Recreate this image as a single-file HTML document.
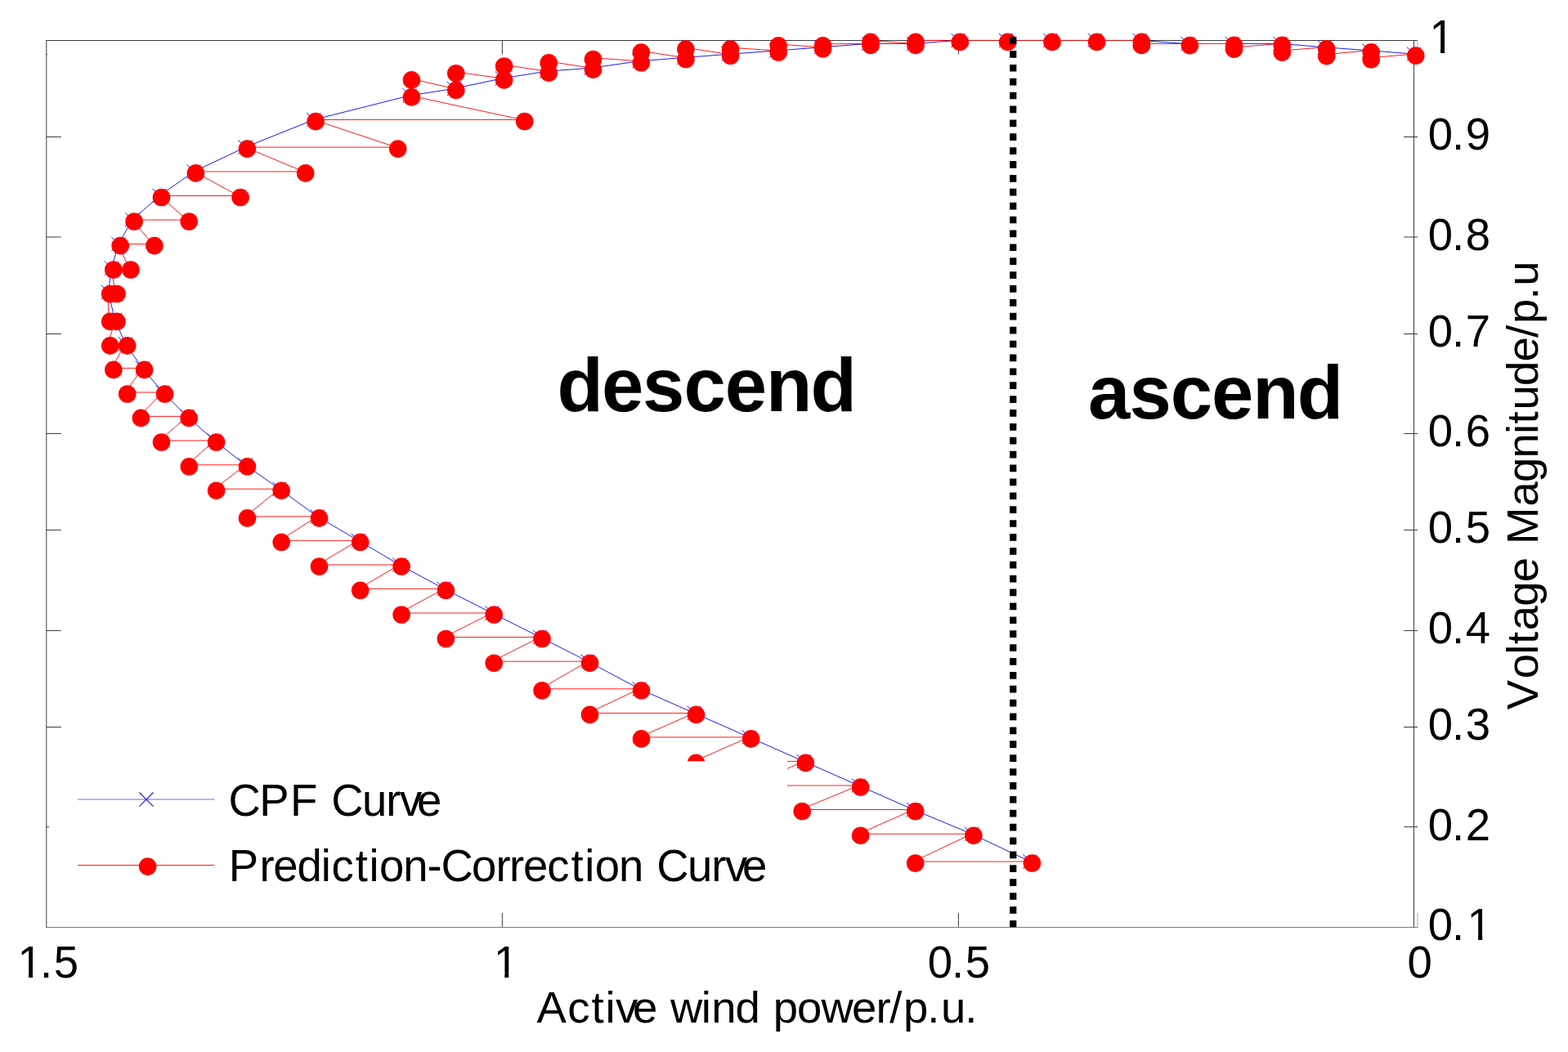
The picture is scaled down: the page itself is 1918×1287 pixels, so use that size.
<!DOCTYPE html>
<html lang="en"><head><meta charset="utf-8"><title>CPF Curve</title>
<style>html,body{margin:0;padding:0;background:#fff;}body{width:1918px;height:1287px;overflow:hidden;}svg{display:block;}text{font-family:"Liberation Sans",sans-serif;fill:#000;}</style></head><body>
<svg width="1918" height="1287" viewBox="0 0 1918 1287">
<rect x="0" y="0" width="1918" height="1287" fill="#fff"/>
<g stroke="#3c3c3c" stroke-width="1" fill="none">
<path d="M56.3 49.5 H1734 M56.8 49.5 V1135 M1729.5 49.5 V1134.5"/>
<path d="M56.8 1134.5 H1734.5" stroke="#7c7c7c"/>
<path d="M56.8 167.5 H74.7 M1717.2 167.5 H1734 M56.8 290 H74.7 M1717.2 290 H1734 M56.8 408.5 H74.7 M1717.2 408.5 H1734 M56.8 530.5 H74.7 M1717.2 530.5 H1734 M56.8 648.4 H74.7 M1717.2 648.4 H1734 M56.8 771.5 H74.7 M1717.2 771.5 H1734 M56.8 889.5 H74.7 M1717.2 889.5 H1734 M56.8 1011.6 H74.7 M1717.2 1011.6 H1734 M614.4 49.5 V66.6 M614.4 1134 V1117 M1172.4 49.5 V66.6 M1172.4 1134 V1117"/>
</g>
<path d="M1734 49.4 V58.5 M1734 1117 V1134.3" stroke="#aaa" stroke-width="1" fill="none"/>
<path d="M57.5 65.8 V67.2" stroke="#555" stroke-width="1" fill="none"/>
<polyline points="1729.5,66.1 1674.9,61.8 1620.4,57.8 1566,53.4 1507.2,53.4" fill="none" stroke="#0000ff" stroke-width="0.9"/>
<polyline points="1453.1,53.6 1394.1,49.4" fill="none" stroke="#0000ff" stroke-width="0.9"/>
<polyline points="1172,49.4 1117.7,53.4 1062.7,53.4 1004.3,57.8 949.9,62 891.2,66.3 836.6,70.5 782,74.8 723.2,83.2 668.9,87.2 614.3,95.9 555.5,108.4 501.2,116.9 383.8,146.5 300.1,180.1 237.1,209.9 195.2,239.5 161.8,269 144.9,298.6 136.5,328 132.4,357.5 140.7,391.4 153.4,420.9 174.3,450.4 199.3,480 228.9,509.4 262.3,539 300.2,568.8 341.9,598.2 388.2,631.9 438.4,661.3 488.8,691 543.1,720.3 601.9,750 660.7,779.5 719.2,809.2 782.2,842.8 849.2,872.4 916.3,901.9 983.1,931.4 1050.3,961 1117.4,990.5 1188.6,1020.2 1260.1,1054" fill="none" stroke="#0000ff" stroke-width="0.9"/>
<path d="M1720.9 57.5 l17.2 17.2 M1720.9 74.7 l17.2 -17.2 M1666.3 53.2 l17.2 17.2 M1666.3 70.4 l17.2 -17.2 M1611.8 49.2 l17.2 17.2 M1611.8 66.4 l17.2 -17.2 M1557.4 44.8 l17.2 17.2 M1557.4 62 l17.2 -17.2 M1498.6 44.8 l17.2 17.2 M1498.6 62 l17.2 -17.2 M1444.5 45 l17.2 17.2 M1444.5 62.2 l17.2 -17.2 M1385.5 40.8 l17.2 17.2 M1385.5 58 l17.2 -17.2 M1330.7 40.8 l17.2 17.2 M1330.7 58 l17.2 -17.2 M1276.1 40.8 l17.2 17.2 M1276.1 58 l17.2 -17.2 M1221.8 40.8 l17.2 17.2 M1221.8 58 l17.2 -17.2 M1163.4 40.8 l17.2 17.2 M1163.4 58 l17.2 -17.2 M1109.1 44.8 l17.2 17.2 M1109.1 62 l17.2 -17.2 M1054.1 44.8 l17.2 17.2 M1054.1 62 l17.2 -17.2 M995.7 49.2 l17.2 17.2 M995.7 66.4 l17.2 -17.2 M941.3 53.4 l17.2 17.2 M941.3 70.6 l17.2 -17.2 M882.6 57.7 l17.2 17.2 M882.6 74.9 l17.2 -17.2 M828 61.9 l17.2 17.2 M828 79.1 l17.2 -17.2 M773.4 66.2 l17.2 17.2 M773.4 83.4 l17.2 -17.2 M714.6 74.6 l17.2 17.2 M714.6 91.8 l17.2 -17.2 M660.3 78.6 l17.2 17.2 M660.3 95.8 l17.2 -17.2 M605.7 87.3 l17.2 17.2 M605.7 104.5 l17.2 -17.2 M546.9 99.8 l17.2 17.2 M546.9 117 l17.2 -17.2 M492.6 108.3 l17.2 17.2 M492.6 125.5 l17.2 -17.2 M375.2 137.9 l17.2 17.2 M375.2 155.1 l17.2 -17.2 M291.5 171.5 l17.2 17.2 M291.5 188.7 l17.2 -17.2 M228.5 201.3 l17.2 17.2 M228.5 218.5 l17.2 -17.2 M186.6 230.9 l17.2 17.2 M186.6 248.1 l17.2 -17.2 M153.2 260.4 l17.2 17.2 M153.2 277.6 l17.2 -17.2 M136.3 290 l17.2 17.2 M136.3 307.2 l17.2 -17.2 M127.9 319.4 l17.2 17.2 M127.9 336.6 l17.2 -17.2 M123.8 348.9 l17.2 17.2 M123.8 366.1 l17.2 -17.2 M132.1 382.8 l17.2 17.2 M132.1 400 l17.2 -17.2 M144.8 412.3 l17.2 17.2 M144.8 429.5 l17.2 -17.2 M165.7 441.8 l17.2 17.2 M165.7 459 l17.2 -17.2 M190.7 471.4 l17.2 17.2 M190.7 488.6 l17.2 -17.2 M220.3 500.8 l17.2 17.2 M220.3 518 l17.2 -17.2 M253.7 530.4 l17.2 17.2 M253.7 547.6 l17.2 -17.2 M291.6 560.2 l17.2 17.2 M291.6 577.4 l17.2 -17.2 M333.3 589.6 l17.2 17.2 M333.3 606.8 l17.2 -17.2 M379.6 623.3 l17.2 17.2 M379.6 640.5 l17.2 -17.2 M429.8 652.7 l17.2 17.2 M429.8 669.9 l17.2 -17.2 M480.2 682.4 l17.2 17.2 M480.2 699.6 l17.2 -17.2 M534.5 711.7 l17.2 17.2 M534.5 728.9 l17.2 -17.2 M593.3 741.4 l17.2 17.2 M593.3 758.6 l17.2 -17.2 M652.1 770.9 l17.2 17.2 M652.1 788.1 l17.2 -17.2 M710.6 800.6 l17.2 17.2 M710.6 817.8 l17.2 -17.2 M773.6 834.2 l17.2 17.2 M773.6 851.4 l17.2 -17.2 M840.6 863.8 l17.2 17.2 M840.6 881 l17.2 -17.2 M907.7 893.3 l17.2 17.2 M907.7 910.5 l17.2 -17.2 M974.5 922.8 l17.2 17.2 M974.5 940 l17.2 -17.2 M1041.7 952.4 l17.2 17.2 M1041.7 969.6 l17.2 -17.2 M1108.8 981.9 l17.2 17.2 M1108.8 999.1 l17.2 -17.2 M1180 1011.6 l17.2 17.2 M1180 1028.8 l17.2 -17.2 M1251.5 1045.4 l17.2 17.2 M1251.5 1062.6 l17.2 -17.2" fill="none" stroke="#0000ff" stroke-width="0.9"/>
<polyline points="1729.5,66.1 1674.9,70.8 1674.9,61.8 1620.4,66.6 1620.4,57.8 1566,62.1 1566,53.4 1507.2,58.1 1507.2,53.4 1453.1,53.6 1453.1,53.6 1394.1,53.4 1394.1,49.4 1339.3,49.4 1339.3,49.4 1284.7,49.4 1284.7,49.4 1230.4,49.4 1230.4,49.4 1172,49.4 1172,49.4 1117.7,49.4 1117.7,53.4 1062.7,49.4 1062.7,53.4 1004.3,53.8 1004.3,57.8 949.9,53.8 949.9,62 891.2,58.1 891.2,66.3 836.6,58.1 836.6,70.5 782,62.1 782,74.8 723.2,70.5 723.2,83.2 668.9,74.8 668.9,87.2 614.3,79 614.3,95.9 555.5,87.7 555.5,108.4 501.2,95.9 501.2,116.9 639.4,146.5 383.8,146.5 484.4,180.1 300.1,180.1 371.4,209.9 237.1,209.9 291.8,239.5 195.2,239.5 228.9,269 161.8,269 186.6,298.6 144.9,298.6 157.6,328 136.5,328 140.7,357.5 132.4,357.5 132.4,391.4 140.7,391.4 132.4,420.9 153.4,420.9 136.5,450.4 174.3,450.4 153.4,480 199.3,480 170.1,509.4 228.9,509.4 195.2,539 262.3,539 229,568.8 300.2,568.8 262.3,598.2 341.9,598.2 300.2,631.9 388.2,631.9 341.9,661.3 438.4,661.3 388.2,691 488.8,691 438.4,720.3 543.1,720.3 488.8,750 601.9,750 543.1,779.5 660.7,779.5 601.9,809.2 719.2,809.2 660.7,842.8 782.2,842.8 719.2,872.4 849.2,872.4 782.2,901.9 916.3,901.9 849.2,931.4" fill="none" stroke="#ff0000" stroke-width="0.9"/>
<polyline points="963,931.4 983.1,931.4 916.3,961 1050.3,961 978.9,990.5 1117.4,990.5 1050.3,1020.2 1188.6,1020.2 1117.4,1054 1260.1,1054" fill="none" stroke="#ff0000" stroke-width="0.9"/>
<g fill="#ff0000">
<circle cx="1731.8" cy="68.1" r="10.8"/>
<circle cx="1677.2" cy="72.8" r="10.8"/>
<circle cx="1677.2" cy="63.8" r="10.8"/>
<circle cx="1622.7" cy="68.6" r="10.8"/>
<circle cx="1622.7" cy="59.8" r="10.8"/>
<circle cx="1568.3" cy="64.1" r="10.8"/>
<circle cx="1568.3" cy="55.4" r="10.8"/>
<circle cx="1509.5" cy="60.1" r="10.8"/>
<circle cx="1509.5" cy="55.4" r="10.8"/>
<circle cx="1455.4" cy="55.6" r="10.8"/>
<circle cx="1396.4" cy="55.4" r="10.8"/>
<circle cx="1396.4" cy="51.4" r="10.8"/>
<circle cx="1341.6" cy="51.4" r="10.8"/>
<circle cx="1287" cy="51.4" r="10.8"/>
<circle cx="1232.7" cy="51.4" r="10.8"/>
<circle cx="1174.3" cy="51.4" r="10.8"/>
<circle cx="1120" cy="51.4" r="10.8"/>
<circle cx="1120" cy="55.4" r="10.8"/>
<circle cx="1065" cy="51.4" r="10.8"/>
<circle cx="1065" cy="55.4" r="10.8"/>
<circle cx="1006.6" cy="55.8" r="10.8"/>
<circle cx="1006.6" cy="59.8" r="10.8"/>
<circle cx="952.2" cy="55.8" r="10.8"/>
<circle cx="952.2" cy="64" r="10.8"/>
<circle cx="893.5" cy="60.1" r="10.8"/>
<circle cx="893.5" cy="68.3" r="10.8"/>
<circle cx="838.9" cy="60.1" r="10.8"/>
<circle cx="838.9" cy="72.5" r="10.8"/>
<circle cx="784.3" cy="64.1" r="10.8"/>
<circle cx="784.3" cy="76.8" r="10.8"/>
<circle cx="725.5" cy="72.5" r="10.8"/>
<circle cx="725.5" cy="85.2" r="10.8"/>
<circle cx="671.2" cy="76.8" r="10.8"/>
<circle cx="671.2" cy="89.2" r="10.8"/>
<circle cx="616.6" cy="81" r="10.8"/>
<circle cx="616.6" cy="97.9" r="10.8"/>
<circle cx="557.8" cy="89.7" r="10.8"/>
<circle cx="557.8" cy="110.4" r="10.8"/>
<circle cx="503.5" cy="97.9" r="10.8"/>
<circle cx="503.5" cy="118.9" r="10.8"/>
<circle cx="641.7" cy="148.5" r="10.8"/>
<circle cx="386.1" cy="148.5" r="10.8"/>
<circle cx="486.7" cy="182.1" r="10.8"/>
<circle cx="302.4" cy="182.1" r="10.8"/>
<circle cx="373.7" cy="211.9" r="10.8"/>
<circle cx="239.4" cy="211.9" r="10.8"/>
<circle cx="294.1" cy="241.5" r="10.8"/>
<circle cx="197.5" cy="241.5" r="10.8"/>
<circle cx="231.2" cy="271" r="10.8"/>
<circle cx="164.1" cy="271" r="10.8"/>
<circle cx="188.9" cy="300.6" r="10.8"/>
<circle cx="147.2" cy="300.6" r="10.8"/>
<circle cx="159.9" cy="330" r="10.8"/>
<circle cx="138.8" cy="330" r="10.8"/>
<circle cx="143" cy="359.5" r="10.8"/>
<circle cx="134.7" cy="359.5" r="10.8"/>
<circle cx="134.7" cy="393.4" r="10.8"/>
<circle cx="143" cy="393.4" r="10.8"/>
<circle cx="134.7" cy="422.9" r="10.8"/>
<circle cx="155.7" cy="422.9" r="10.8"/>
<circle cx="138.8" cy="452.4" r="10.8"/>
<circle cx="176.6" cy="452.4" r="10.8"/>
<circle cx="155.7" cy="482" r="10.8"/>
<circle cx="201.6" cy="482" r="10.8"/>
<circle cx="172.4" cy="511.4" r="10.8"/>
<circle cx="231.2" cy="511.4" r="10.8"/>
<circle cx="197.5" cy="541" r="10.8"/>
<circle cx="264.6" cy="541" r="10.8"/>
<circle cx="231.3" cy="570.8" r="10.8"/>
<circle cx="302.5" cy="570.8" r="10.8"/>
<circle cx="264.6" cy="600.2" r="10.8"/>
<circle cx="344.2" cy="600.2" r="10.8"/>
<circle cx="302.5" cy="633.9" r="10.8"/>
<circle cx="390.5" cy="633.9" r="10.8"/>
<circle cx="344.2" cy="663.3" r="10.8"/>
<circle cx="440.7" cy="663.3" r="10.8"/>
<circle cx="390.5" cy="693" r="10.8"/>
<circle cx="491.1" cy="693" r="10.8"/>
<circle cx="440.7" cy="722.3" r="10.8"/>
<circle cx="545.4" cy="722.3" r="10.8"/>
<circle cx="491.1" cy="752" r="10.8"/>
<circle cx="604.2" cy="752" r="10.8"/>
<circle cx="545.4" cy="781.5" r="10.8"/>
<circle cx="663" cy="781.5" r="10.8"/>
<circle cx="604.2" cy="811.2" r="10.8"/>
<circle cx="721.5" cy="811.2" r="10.8"/>
<circle cx="663" cy="844.8" r="10.8"/>
<circle cx="784.5" cy="844.8" r="10.8"/>
<circle cx="721.5" cy="874.4" r="10.8"/>
<circle cx="851.5" cy="874.4" r="10.8"/>
<circle cx="784.5" cy="903.9" r="10.8"/>
<circle cx="918.6" cy="903.9" r="10.8"/>
<circle cx="851.5" cy="933.4" r="10.8"/>
<circle cx="985.4" cy="933.4" r="10.8"/>
<circle cx="918.6" cy="963" r="10.8"/>
<circle cx="1052.6" cy="963" r="10.8"/>
<circle cx="981.2" cy="992.5" r="10.8"/>
<circle cx="1119.7" cy="992.5" r="10.8"/>
<circle cx="1052.6" cy="1022.2" r="10.8"/>
<circle cx="1190.9" cy="1022.2" r="10.8"/>
<circle cx="1119.7" cy="1056" r="10.8"/>
<circle cx="1262.4" cy="1056" r="10.8"/>
</g>
<line x1="1239.25" y1="45.1" x2="1239.25" y2="1134.3" stroke="#000" stroke-width="8.2" stroke-dasharray="8.7 8.1875"/>
<rect x="60" y="931.3" width="903" height="180" fill="#fff"/>
<line x1="95.1" y1="977.9" x2="262.6" y2="977.9" stroke="#b4b4ff" stroke-width="2"/>
<path d="M170.4 969.5 l17.2 17.2 M170.4 986.7 l17.2 -17.2" fill="none" stroke="#1010ff" stroke-width="1.1"/>
<line x1="95.1" y1="1058.45" x2="262.6" y2="1058.45" stroke="#ff0000" stroke-width="0.9"/>
<circle cx="180.65" cy="1060.1" r="10.8" fill="#ff0000"/>
<text transform="translate(0 998.2) scale(1 1.02)" font-size="54.5" x="279.6 317.3 355 388.5 405.2 442.9 472.2 489 509.9" y="0">CPF Curve</text>
<text transform="translate(0 1077.6) scale(1 1.02)" font-size="54.5" x="279.8 317.5 334.2 363.5 392.8 405.4 434.7 451.5 464 493.3 522.6 539.4 577.1 606.4 623.1 639.9 669.2 698.5 715.2 727.8 757.1 786.4 803.2 840.9 870.2 886.9 907.9" y="0">Prediction-Correction Curve</text>
<text transform="translate(0 65) scale(1 1.05)" font-size="54.5" x="1748.5" y="0">1</text>
<text transform="translate(0 183.4) scale(1 1.03)" font-size="54.5" x="1746.7 1776 1792.7" y="0">0.9</text>
<text transform="translate(0 305.9) scale(1 1.03)" font-size="54.5" x="1746.7 1776 1792.7" y="0">0.8</text>
<text transform="translate(0 424.4) scale(1 1.03)" font-size="54.5" x="1746.7 1776 1792.7" y="0">0.7</text>
<text transform="translate(0 546.4) scale(1 1.03)" font-size="54.5" x="1746.7 1776 1792.7" y="0">0.6</text>
<text transform="translate(0 664.3) scale(1 1.03)" font-size="54.5" x="1746.7 1776 1792.7" y="0">0.5</text>
<text transform="translate(0 787.4) scale(1 1.03)" font-size="54.5" x="1746.7 1776 1792.7" y="0">0.4</text>
<text transform="translate(0 905.4) scale(1 1.03)" font-size="54.5" x="1746.7 1776 1792.7" y="0">0.3</text>
<text transform="translate(0 1027.5) scale(1 1.03)" font-size="54.5" x="1746.7 1776 1792.7" y="0">0.2</text>
<text transform="translate(0 1150) scale(1 1.03)" font-size="54.5" x="1746.7 1776 1794.5" y="0">0.1</text>
<text transform="translate(0 1196) scale(1 1.03)" font-size="54.5" x="21.4 48.9 65.7" y="0">1.5</text>
<text transform="translate(0 1196) scale(1 1.03)" font-size="54.5" x="603.7" y="0">1</text>
<text transform="translate(0 1196) scale(1 1.03)" font-size="54.5" x="1134.7 1164 1180.8" y="0">0.5</text>
<text transform="translate(0 1196) scale(1 1.03)" font-size="54.5" x="1721.4" y="0">0</text>
<text font-size="54.5" x="656.6 694.3 723.6 740.4 753 773.9 803.2 820 857.7 870.3 899.6 929 945.7 975 1004.4 1042.1 1071.4 1088.2 1104.9 1134.3 1151 1180.3" y="1251">Active wind power/p.u.</text>
<text transform="translate(1881 868.2) rotate(-90) scale(1 1.0)" font-size="54.5" x="0 37.9 67.4 80.1 96.9 126.4 156 185.5 202.3 248.7 278.2 307.7 337.2 349.8 366.7 396.2 425.7 455.2 472.1 501.6 518.4" y="0">Voltage Magnitude/p.u</text>
<text font-size="92.3" font-weight="bold" x="681.4 735.9 786.1 836.4 886.7 937 991.5" y="502.9">descend</text>
<text font-size="92.3" font-weight="bold" x="1331.1 1381.4 1431.7 1481.9 1532.2 1586.7" y="511.6">ascend</text>
<rect x="1751.4" y="59.1" width="10.6" height="6.5" fill="#fff"/>
<rect x="1767.1" y="59.1" width="10.3" height="6.5" fill="#fff"/>
<rect x="1797.5" y="1144.2" width="10.6" height="6.4" fill="#fff"/>
<rect x="1813.2" y="1144.2" width="10.3" height="6.4" fill="#fff"/>
<rect x="24.4" y="1190.2" width="10.6" height="6.4" fill="#fff"/>
<rect x="40" y="1190.2" width="10.3" height="6.4" fill="#fff"/>
<rect x="606.7" y="1190.2" width="10.6" height="6.4" fill="#fff"/>
<rect x="622.3" y="1190.2" width="10.3" height="6.4" fill="#fff"/>
</svg></body></html>
